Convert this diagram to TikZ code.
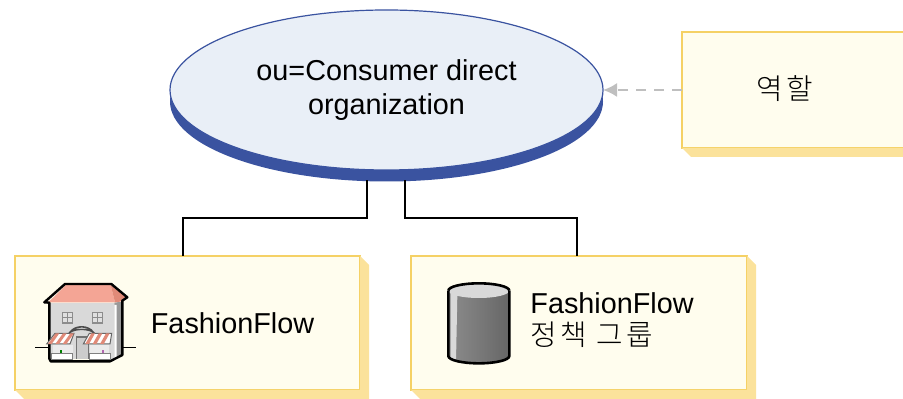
\documentclass[tikz,border=0pt]{standalone}
\usepackage{fontspec}
\setmainfont{Liberation Sans}
\newfontfamily\krfont[LetterSpace=6]{Noto Sans CJK KR Light}
\newfontfamily\krwide[LetterSpace=12]{Noto Sans CJK KR Light}
\usetikzlibrary{arrows.meta,shapes.geometric,calc}
\definecolor{boxfill}{HTML}{FFFDEE}
\definecolor{boxline}{HTML}{F5D165}
\definecolor{boxshade}{HTML}{FBE29B}
\definecolor{orgfill}{HTML}{E9EFF7}
\definecolor{orgblue}{HTML}{3A53A0}
\definecolor{roofc}{HTML}{F4A595}
\definecolor{roofside}{HTML}{E08A78}
\tikzset{
	lab/.style={font=\fontsize{14.4}{17}\selectfont,inner sep=0pt,align=left},
	bigbox/.style={draw=boxline,fill=boxfill,line width=1pt,inner sep=0pt,outer sep=0pt},
	org/.style={ellipse,inner sep=0pt,outer sep=0pt,minimum width=216.5pt,minimum height=80pt},
	link/.style={line width=1pt,black}
}
\begin{document}
\begin{tikzpicture}[x=0.5pt,y=-0.5pt]
	\clip (0,0) rectangle (903,399);
	\useasboundingbox (0,0) rectangle (903,399);

	\node[bigbox,minimum width=172.5pt,minimum height=67pt] (store) at (187.5,323) {};
	\node[bigbox,minimum width=168pt,minimum height=67pt] (group) at (579,323) {};
	\node[bigbox,minimum width=120pt,minimum height=58pt] (role) at (802,90) {};
	\foreach \n in {store,group,role}
		\fill[boxshade] (\n.north east) -- ([shift={(9,9)}]\n.north east) -- ([shift={(9,9)}]\n.south east) -- ([shift={(9,9)}]\n.south west) -- (\n.south west) -- (\n.south east) -- cycle;

	\node[org,fill=orgblue] (orgbase) at (386.5,101.5) {};
	\node[org,fill=orgfill,draw=orgblue,line width=0.6pt,lab,align=center] (orgtop) at (386.5,90) {ou=Consumer direct\\organization};

	\draw[link] ([shift={(-19.5,-1)}]orgbase.south) -- ++(0,38) -| ([shift={(-4.5,0)}]store.north);
	\draw[link] ([shift={(18.5,-1)}]orgbase.south) -- ++(0,38) -| ([shift={(-2,0)}]group.north);
	\draw[line width=1pt,color=black!25,dash pattern=on 5pt off 4pt,-{Latex[length=7pt,width=7pt]}] (role.west) -- (orgtop.east);

	\node[lab,anchor=base west] (storetext) at (150.5,334) {FashionFlow};
	\node[lab,anchor=base west] (grouptext) at (530,314) {FashionFlow};
	\node[lab,anchor=base west] (grouptextb) at (530,346) {\krwide 정책 그룹};
	\node[lab,anchor=center] (roletext) at (785,89) {\krwide 역할};

	% store icon
	\begin{scope}[shift={(20,260)},x=0.16667pt,y=-0.16667pt]
	\draw[line width=0.5pt] (45,262) -- (90,262);
	\draw[line width=0.5pt] (305,262) -- (347,262);
	\fill[black!15] (90,128) -- (283,128) -- (283,298) -- (90,298) -- cycle;
	\fill[black!40] (283,128) -- (305,125) -- (305,285) -- (283,295) -- cycle;
	\fill[white] (283,135) -- (290,135) -- (290,292) -- (283,295) -- cycle;
	\fill[roofc] (85,127) -- (138,75) -- (272,75) -- (285,127) -- cycle;
	\fill[roofside] (272,75) -- (320,112) -- (300,125) -- (285,127) -- cycle;
	\draw[line width=1.2pt,line join=round] (88,128) -- (73,127) -- (135,72) -- (274,72) -- (322,112) -- (307,122) -- (307,285) -- (270,304) -- (92,304) -- (88,296) -- cycle;
	\foreach \wx in {125,215} {
		\fill[black!45] (\wx,157) rectangle ++(34,34);
		\fill[black!12] (\wx+3,160) rectangle ++(12,12);
		\fill[black!12] (\wx+18,160) rectangle ++(12,12);
		\fill[black!12] (\wx+3,175) rectangle ++(12,12);
		\fill[black!12] (\wx+18,175) rectangle ++(12,12);
	}
	\draw[black!70,line width=0.8pt,fill=white] (150,217) .. controls (165,195) and (205,195) .. (220,217) .. controls (205,205) and (165,205) .. cycle;
	\fill[black!55] (168,228) rectangle (207,298);
	\fill[black!20] (172,234) rectangle (203,296);
	\fill[black!8] (100,255) rectangle (158,285);
	\fill[black!8] (210,255) rectangle (268,285);
	\fill[green!50!black] (120,270) rectangle (127,280);
	\fill[violet!60] (245,270) rectangle (252,280);
	\fill[white,draw=black!50,line width=0.3pt] (95,280) rectangle (158,298);
	\fill[white,draw=black!50,line width=0.3pt] (207,280) rectangle (270,298);
	\draw[black!60,line width=0.5pt,fill=white] (80,252) -- (105,220) -- (162,220) -- (150,252) -- cycle;
	\draw[black!60,line width=0.5pt,fill=white] (190,252) -- (208,220) -- (275,220) -- (270,252) -- cycle;
	\foreach \sx in {0,22,44} {
		\fill[roofside] (84+\sx,252) -- (107+\sx,220) -- (118+\sx,220) -- (95+\sx,252) -- cycle;
		\fill[roofside] (196+\sx,252) -- (214+\sx,220) -- (225+\sx,220) -- (207+\sx,252) -- cycle;
	}
	\end{scope}

	% cylinder icon
	\begin{scope}[shift={(420,250)},x=0.16667pt,y=-0.16667pt]
	\path[left color=black!45,right color=black!60] (85,122) -- (85,318) arc[start angle=180,end angle=0,x radius=91.5,y radius=22] -- (268,122) -- cycle;
	\fill[white!85!black] (92,125) -- (112,135) -- (108,334) -- (92,325) -- cycle;
	\fill[black!15] (176.5,122) ellipse[x radius=91.5,y radius=22];
	\draw[line width=1.3pt] (85,122) -- (85,318) arc[start angle=180,end angle=0,x radius=91.5,y radius=22] -- (268,122);
	\draw[line width=1.3pt] (85,122) arc[start angle=180,end angle=360,x radius=91.5,y radius=22];
	\end{scope}
\end{tikzpicture}
\end{document}
